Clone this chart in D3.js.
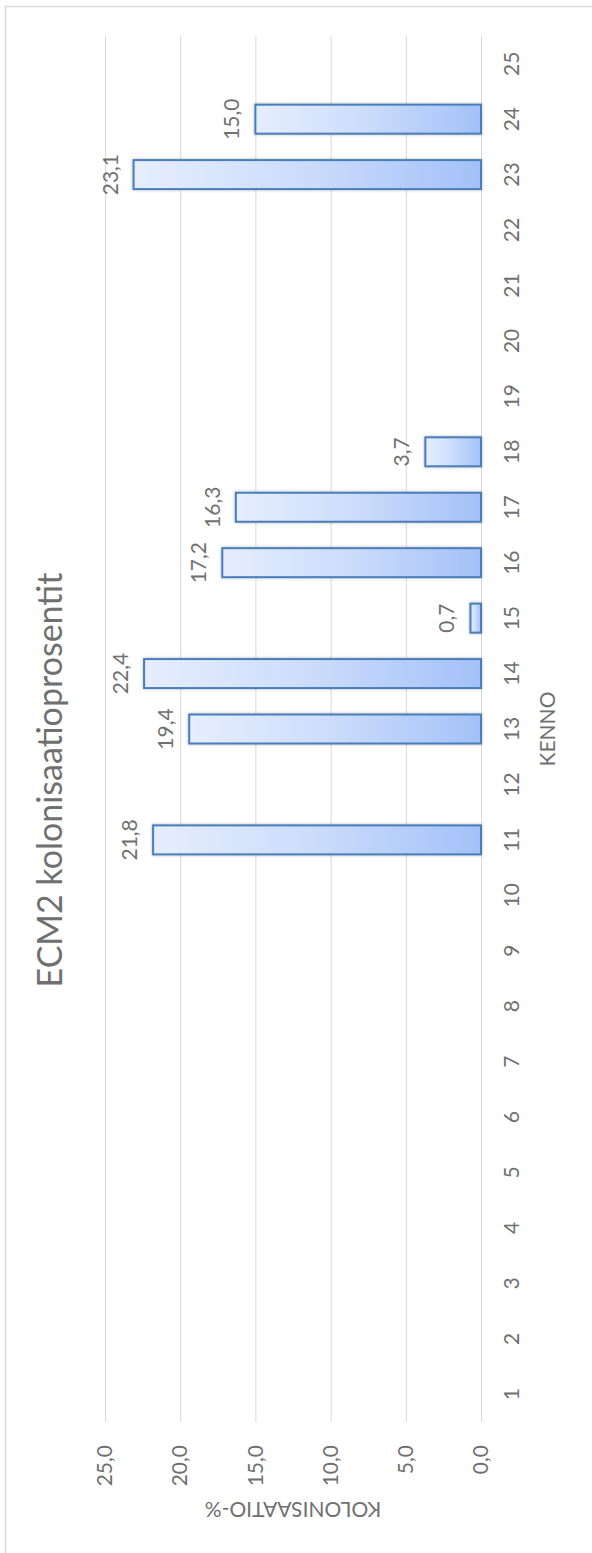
<!DOCTYPE html>
<html>
<head>
<meta charset="utf-8">
<script src="https://cdn.jsdelivr.net/npm/d3@7"></script>
<style>
  html, body { margin: 0; padding: 0; background: #fff; }
  svg { display: block; }
  text { font-family: Lato, "Open Sans", sans-serif; fill: #707070; }
</style>
</head>
<body>
<div id="kaavio"></div>
<script>
// kennot ja kolonisaatio-% (tyhjä = ei mittausta)
const kennot = ["1", "2", "3", "4", "5", "6", "7", "8", "9", "10", "11", "12", "13",
  "14", "15", "16", "17", "18", "19", "20", "21", "22", "23", "24", "25"];
const arvot = [null, null, null, null, null, null, null, null, null, null, 21.8, null, 19.4,
  22.4, 0.7, 17.2, 16.3, 3.7, null, null, null, null, 23.1, 15.0, null];
const asteikko = [0, 5, 10, 15, 20, 25];

const otsikko = "ECM2 kolonisaatioprosentit";
const xOtsikko = "KENNO";
const yOtsikko = "KOLONISAATIO-%";

const width = 592;
const height = 1553;
const tekstiVari = "#707070";

const fi = d3.formatLocale({ decimal: ",", thousands: " ", grouping: [3], currency: ["", "€"] });
const f1 = fi.format(".1f");

const svg = d3.select("#kaavio").append("svg")
  .attr("width", width)
  .attr("height", height);

const defs = svg.append("defs");

const grad = defs.append("linearGradient")
  .attr("id", "pylvas")
  .attr("x1", "0").attr("y1", "0")
  .attr("x2", "0").attr("y2", "1");
grad.append("stop").attr("offset", "0%").attr("stop-color", "#e6eefd");
grad.append("stop").attr("offset", "50%").attr("stop-color", "#cbdcfb");
grad.append("stop").attr("offset", "100%").attr("stop-color", "#a3c1f8");

const varjo = defs.append("filter")
  .attr("id", "varjo")
  .attr("x", "-20%").attr("y", "-20%")
  .attr("width", "140%").attr("height", "140%");
varjo.append("feDropShadow")
  .attr("dx", 0).attr("dy", 0)
  .attr("stdDeviation", 1.4)
  .attr("flood-color", "#000")
  .attr("flood-opacity", 0.3);

// kehys
svg.append("rect")
  .attr("x", 5.5).attr("y", 6.5)
  .attr("width", 700).attr("height", 1700)
  .attr("fill", "none")
  .attr("stroke", "#d9d9d9")
  .attr("stroke-width", 1.5);

// kaavio piirretään vaakasuunnassa ja käännetään -90 astetta
const g = svg.append("g")
  .attr("transform", `translate(0,${height}) rotate(-90)`);

const x = d3.scaleBand()
  .domain(kennot)
  .range([131, 1517])
  .paddingInner(0.477)
  .paddingOuter(0.2385);

const y = d3.scaleLinear()
  .domain([0, 25])
  .range([481, 105]);

// ruudukko + arvoakseli
const yAks = g.append("g")
  .attr("transform", `translate(${x.range()[0]},0)`)
  .call(d3.axisLeft(y)
    .tickValues(asteikko)
    .tickSize(-(x.range()[1] - x.range()[0]))
    .tickPadding(23)
    .tickFormat(f1));
yAks.select(".domain").remove();
yAks.selectAll(".tick line").attr("stroke", "#d9d9d9").attr("stroke-width", 1);
yAks.selectAll(".tick text").attr("font-size", 21).style("font-family", "Lato, sans-serif").attr("fill", tekstiVari);

// kennoakseli
const xAks = g.append("g")
  .attr("transform", `translate(0,${y(0)})`)
  .call(d3.axisBottom(x).tickSize(0).tickPadding(23));
xAks.select(".domain").remove();
xAks.selectAll(".tick text").attr("font-size", 21).style("font-family", "Lato, sans-serif").attr("fill", tekstiVari);

const data = kennot.map((k, i) => ({ kenno: k, arvo: arvot[i] })).filter(d => d.arvo != null);

g.selectAll("rect.pylvas")
  .data(data)
  .join("rect")
  .attr("class", "pylvas")
  .attr("x", d => x(d.kenno))
  .attr("y", d => y(d.arvo))
  .attr("width", x.bandwidth())
  .attr("height", d => y(0) - y(d.arvo))
  .attr("fill", "url(#pylvas)")
  .attr("stroke", "#4a7ebb")
  .attr("stroke-width", 2)
  .attr("filter", "url(#varjo)");

g.selectAll("text.arvo")
  .data(data)
  .join("text")
  .attr("class", "arvo")
  .attr("x", d => x(d.kenno) + x.bandwidth() / 2)
  .attr("y", d => y(d.arvo) - 16)
  .attr("text-anchor", "middle")
  .attr("font-size", 21)
  .text(d => f1(d.arvo));

// otsikot
g.append("text")
  .attr("x", 773)
  .attr("y", 62)
  .attr("text-anchor", "middle")
  .attr("font-size", 34)
  .text(otsikko);

g.append("text")
  .attr("x", (x.range()[0] + x.range()[1]) / 2)
  .attr("y", 555)
  .attr("text-anchor", "middle")
  .attr("font-size", 21)
  .text(xOtsikko);

g.append("text")
  .attr("transform", `translate(51,${(y(0) + y(25)) / 2}) rotate(-90)`)
  .attr("text-anchor", "middle")
  .attr("font-size", 21)
  .text(yOtsikko);
</script>
</body>
</html>
